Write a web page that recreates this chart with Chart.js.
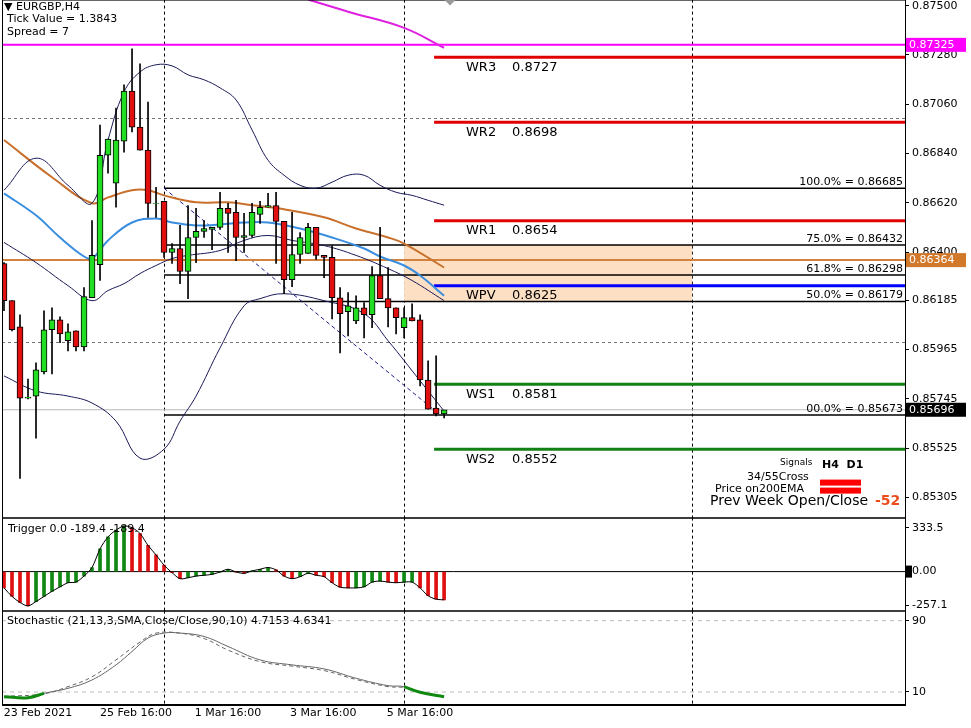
<!DOCTYPE html>
<html>
<head>
<meta charset="utf-8">
<script src="https://cdn.jsdelivr.net/npm/chart.js@4"></script>
<style>
  body { margin: 0; background: #fff; width: 971px; height: 728px; overflow: hidden; position: relative; font-family: "DejaVu Sans", sans-serif; }
  canvas { position: absolute; left: 0; }
</style>
</head>
<body>
<canvas id="main" width="971" height="538" style="top:-10px"></canvas>
<canvas id="trig" width="971" height="113" style="top:508px"></canvas>
<canvas id="stoch" width="971" height="127" style="top:601px"></canvas>
<script>
// EURGBP H4 candles, index 0 = first visible bar
const opens  = [.86349,.86183,.86066,.85748,.85757,.85865,.86053,.86098,.86004,.86048,.85977,.86196,.86344,.86832,.86707,.86895,.87119,.86958,.86855,.86617,.86626,.86398,.86416,.86313,.86465,.86492,.86501,.86510,.86595,.86577,.86465,.86474,.86568,.86600,.86608,.86537,.86277,.86389,.86394,.86510,.86385,.86376,.86196,.86134,.86093,.86151,.86120,.86295,.86192,.86151,.86062,.86107,.86098,.85829,.85704,.85677];
const highs  = [.86353,.86183,.86120,.85833,.85905,.86138,.86151,.86111,.86080,.86048,.86241,.86541,.86967,.86904,.87043,.87146,.87307,.87240,.87070,.86689,.86626,.86438,.86519,.86608,.86595,.86541,.86510,.86667,.86617,.86631,.86573,.86617,.86626,.86662,.86667,.86537,.86577,.86487,.86528,.86510,.86385,.86429,.86241,.86219,.86205,.86174,.86335,.86510,.86331,.86151,.86151,.86169,.86120,.85914,.85937,.85690];
const lows   = [.86138,.86048,.85390,.85744,.85569,.85856,.85856,.85995,.85959,.85959,.85959,.86196,.86273,.86752,.86600,.86846,.86936,.86855,.86555,.86555,.86376,.86349,.86259,.86192,.86353,.86465,.86411,.86501,.86398,.86362,.86398,.86465,.86528,.86600,.86349,.86214,.86246,.86349,.86394,.86367,.86286,.86102,.85950,.86026,.86080,.86017,.86062,.86192,.86066,.86035,.86017,.86093,.85802,.85699,.85668,.85659];
const closes = [.86183,.86053,.85748,.85753,.85874,.86053,.86098,.86035,.86044,.85977,.86201,.86385,.86832,.86904,.86900,.87119,.86958,.86855,.86617,.86619,.86398,.86416,.86313,.86465,.86492,.86505,.86510,.86595,.86573,.86465,.86474,.86577,.86600,.86608,.86537,.86277,.86389,.86465,.86510,.86385,.86376,.86196,.86125,.86160,.86151,.86120,.86295,.86192,.86151,.86107,.86107,.86093,.85829,.85699,.85677,.85696];

// indicators as [bar index, value]
const upperBand = [[0,.86676],[4,.86819],[8,.86698],[11,.86618],[13,.86900],[15,.87115],[17,.87204],[19,.87236],[21,.87231],[23,.87191],[25,.87169],[27,.87133],[29,.87079],[31,.86945],[33,.86810],[35,.86743],[37,.86698],[39,.86685],[41,.86712],[43,.86743],[45,.86743],[47,.86698],[49,.86667],[51,.86653],[53,.86631],[55,.86609]];
const midBand = [[0,.86443],[4,.86353],[8,.86250],[11,.86183],[13,.86228],[15,.86259],[17,.86304],[19,.86340],[21,.86371],[23,.86385],[27,.86407],[30,.86452],[33,.86474],[36,.86452],[40,.86429],[44,.86385],[48,.86326],[51,.86273],[55,.86183]];
const lowerBand = [[0,.85847],[4,.85780],[8,.85757],[11,.85726],[14,.85645],[17,.85480],[20,.85520],[22,.85645],[24,.85757],[27,.85972],[30,.86160],[32,.86192],[35,.86214],[40,.86183],[45,.86125],[48,.86004],[52,.85825],[55,.85690]];
const emaBlue = [[0,.86662],[4,.86564],[7,.86465],[10,.86380],[11,.86371],[13,.86452],[16,.86532],[19,.86550],[21,.86532],[24,.86519],[27,.86523],[30,.86532],[33,.86532],[37,.86505],[41,.86465],[45,.86416],[47,.86380],[50,.86340],[52,.86295],[55,.86205]];
const emaOrange = [[0,.86900],[6,.86734],[11,.86618],[13,.86644],[16,.86676],[18,.86676],[20,.86653],[24,.86622],[28,.86622],[31,.86609],[35,.86591],[40,.86555],[44,.86505],[48,.86465],[50,.86438],[55,.86331]];
const ema200 = [[38,.87527],[43,.87473],[50,.87401],[55,.87312]];

const levelNames  = ["WR3", "WR2", "WR1", "WPV", "WS1", "WS2"];
const levelValues = [0.8727, 0.8698, 0.8654, 0.8625, 0.8581, 0.8552];
const fibNames  = ["100.0%", "75.0%", "61.8%", "50.0%", "00.0%"];
const fibValues = [0.86685, 0.86432, 0.86298, 0.86179, 0.85673];
const magentaLevel = 0.87325;
const orangeLevel = 0.86364;
const lastPrice = 0.85696;

const priceTicks = [0.87500, 0.87280, 0.87060, 0.86840, 0.86620, 0.86400, 0.86185, 0.85965, 0.85745, 0.85525, 0.85305];

const trigger = [-124,-189,-235,-261,-228,-189,-150,-116,-85,-80,-34,31,173,264,316,347,334,290,199,127,49,-8,-54,-47,-34,-28,-21,-3,18,-3,-13,5,18,31,13,-34,-54,-39,-13,-28,-39,-85,-119,-124,-124,-116,-80,-72,-80,-85,-80,-80,-124,-184,-210,-215];
const stochMain = [[0,4.7],[3,3.6],[5,8.5],[8,14.1],[11,23.5],[14,40.4],[16,55.4],[18,70.5],[20,76.1],[22,76.1],[25,72.3],[28,61],[32,46],[36,40.4],[40,35.9],[44,25.4],[48,17.1],[50,16],[52,9.7],[55,4.7]];
const stochSignal = [[0,5],[5,8],[8,16],[11,27],[14,46],[17,66],[19,76],[22,76],[25,70],[28,57],[32,44],[36,39],[40,34],[44,24],[48,16],[50,15],[52,10],[55,5]];
const stochLow = [[0,4.7],[3,3.6],[5,8.5],[20,null],[50,16],[52,9.7],[55,4.7]];

const timeTicks = [4.25, 16.5, 28, 39.9, 52];
const timeLabels = ["23 Feb 2021", "25 Feb 16:00", "1 Mar 16:00", "3 Mar 16:00", "5 Mar 16:00"];
const gridIdx = [20, 50, 86];

const XMIN = -0.25, XMAX = 112.6;
const FONT = "DejaVu Sans";
const pts = arr => arr.map(p => ({ x: p[0], y: p[1] }));
const seg = (x0, x1, v) => [{ x: x0, y: v }, { x: x1, y: v }];
const LAYOUT = { autoPadding: false, padding: { left: 2, top: 0, bottom: 0, right: 0 } };

function xScale(display) {
  return { type: "linear", min: XMIN, max: XMAX, offset: false, display: display, grid: { display: false } };
}
function yScale(min, max, ticks, fmt) {
  return {
    position: "right", min: min, max: max,
    afterFit: s => { s.width = 66; },
    afterBuildTicks: s => { s.ticks = ticks.map(v => ({ value: v })); },
    ticks: { color: "#000", font: { family: FONT, size: 11 }, padding: 3, callback: fmt },
    grid: { drawOnChartArea: false, color: "#000", tickLength: 4 },
    border: { color: "#000" }
  };
}
function lineDs(data, color, width, extra) {
  return Object.assign({ type: "line", data: data, borderColor: color, borderWidth: width, pointRadius: 0, tension: 0.4, fill: false, order: 3 }, extra || {});
}

const vGrid = {
  id: "vgrid",
  beforeDatasetsDraw(chart) {
    const { ctx, chartArea: a, scales: { x } } = chart;
    ctx.save();
    ctx.strokeStyle = "#000"; ctx.lineWidth = 1; ctx.setLineDash([3, 3]);
    gridIdx.forEach(i => {
      const px = Math.round(x.getPixelForValue(i)) + 0.5;
      ctx.beginPath(); ctx.moveTo(px, a.top); ctx.lineTo(px, a.bottom); ctx.stroke();
    });
    ctx.restore();
  },
  afterDraw(chart) {
    const { ctx, chartArea: a } = chart;
    ctx.save(); ctx.strokeStyle = "#000"; ctx.lineWidth = 1;
    ctx.strokeRect(a.left + 0.5, a.top + 0.5, a.right - a.left, a.bottom - a.top - 1);
    ctx.restore();
  }
};

const mainOverlay = {
  id: "mainOverlay",
  beforeDatasetsDraw(chart) {
    const { ctx, chartArea: a, scales: { x, y } } = chart;
    ctx.save();
    // retracement zone
    const bx0 = x.getPixelForValue(50), bx1 = x.getPixelForValue(86);
    const by0 = y.getPixelForValue(fibValues[1]), by1 = y.getPixelForValue(fibValues[3]);
    ctx.fillStyle = "#fde0c4";
    ctx.fillRect(bx0, by0, bx1 - bx0, by1 - by0);
    // horizontal dashed grid
    ctx.strokeStyle = "#777"; ctx.setLineDash([3, 3]);
    [0.87, 0.86].forEach(v => {
      const py = Math.round(y.getPixelForValue(v)) + 0.5;
      ctx.beginPath(); ctx.moveTo(a.left, py); ctx.lineTo(a.right, py); ctx.stroke();
    });
    ctx.restore();
  },
  afterDraw(chart) {
    const { ctx, chartArea: a, scales: { x, y } } = chart;
    ctx.save();
    ctx.textBaseline = "middle";
    ctx.fillStyle = "#000";
    ctx.font = "13px " + FONT;
    levelNames.forEach((n, i) => {
      const py = y.getPixelForValue(levelValues[i]) + 10;
      ctx.fillText(n, 466, py);
      ctx.fillText(levelValues[i].toFixed(4), 512, py);
    });
    ctx.font = "11px " + FONT;
    ctx.textAlign = "right";
    fibNames.forEach((n, i) => {
      ctx.fillText(n + " = " + fibValues[i].toFixed(5), a.right - 2, y.getPixelForValue(fibValues[i]) - 6);
    });
    ctx.textAlign = "left";
    // price boxes on the axis
    [[magentaLevel, "#ff00ff"], [orangeLevel, "#d2782a"], [lastPrice, "#000"]].forEach(([v, c]) => {
      const py = y.getPixelForValue(v);
      ctx.fillStyle = c; ctx.fillRect(a.right + 1, py - 7, 60, 14);
      ctx.fillStyle = "#fff"; ctx.fillText(v.toFixed(5), a.right + 4, py);
    });
    ctx.translate(0, a.top);
    // header texts
    ctx.fillStyle = "#000";
    ctx.font = "11px " + FONT;
    ctx.fillText("\u25BC EURGBP,H4", 4, 8);
    ctx.fillText("Tick Value = 1.3843", 7, 20);
    ctx.fillText("Spread = 7", 7, 33);
    // signals panel
    ctx.font = "9px " + FONT; ctx.fillText("Signals", 780, 463);
    ctx.font = "bold 11px " + FONT; ctx.fillText("H4  D1", 822, 466);
    ctx.font = "11px " + FONT;
    ctx.fillText("34/55Cross", 747, 478);
    ctx.fillText("Price on200EMA", 715, 490);
    ctx.font = "14px " + FONT; ctx.fillText("Prev Week Open/Close", 710, 502);
    ctx.font = "bold 14px " + FONT; ctx.fillStyle = "#ec4c1c"; ctx.fillText("-52", 875, 502);
    ctx.fillStyle = "#f00";
    ctx.fillRect(820, 480, 41, 6);
    ctx.fillRect(820, 488, 41, 6);
    // chart object marker
    ctx.fillStyle = "#999";
    ctx.beginPath(); ctx.moveTo(444, 0); ctx.lineTo(450, 6); ctx.lineTo(456, 0); ctx.fill();
    ctx.restore();
  }
};

const idx = opens.map((_, i) => i);
const bodyColors = idx.map(i => closes[i] >= opens[i] ? "#22dd22" : "#e01010");

const mainDatasets = [
  { type: "bar", data: idx.map(i => ({ x: i, y: [lows[i], highs[i]] })), backgroundColor: "#000", barThickness: 1, grouped: false, order: 2 },
  { type: "bar", data: idx.map(i => ({ x: i, y: [opens[i], closes[i]] })), backgroundColor: bodyColors, borderColor: "#000", borderWidth: 1, borderSkipped: false, barThickness: 6, grouped: false, order: 1 },
  lineDs(pts(upperBand), "#1a1a5a", 1),
  lineDs(pts(midBand), "#1a1a5a", 1),
  lineDs(pts(lowerBand), "#1a1a5a", 1),
  lineDs(pts(emaBlue), "#3a8ee0", 2),
  lineDs(pts(emaOrange), "#c8702c", 2),
  lineDs(pts(ema200), "#e020e0", 2),
  lineDs(seg(XMIN, XMAX, magentaLevel), "#ff00ff", 2, { tension: 0 }),
  lineDs(seg(XMIN, XMAX, orangeLevel), "#d2823c", 2, { tension: 0 }),
  lineDs(seg(XMIN, XMAX, lastPrice), "#b8b8b8", 1, { tension: 0, order: 5 }),
  lineDs([{ x: 20, y: fibValues[0] }, { x: 54.5, y: fibValues[4] }], "#1a1a8a", 1, { tension: 0, borderDash: [4, 3] })
];
fibValues.forEach(v => mainDatasets.push(lineDs(seg(20, XMAX, v), "#000", 1.5, { tension: 0, order: 4 })));
levelValues.forEach((v, i) => {
  const c = i < 3 ? "#e00000" : i === 3 ? "#0000ff" : "#128012";
  mainDatasets.push(lineDs(seg(53.75, XMAX, v), c, 3, { tension: 0, order: 4 }));
});

new Chart(document.getElementById("main"), {
  data: { datasets: mainDatasets },
  options: {
    responsive: false, animation: false, devicePixelRatio: 1,
    layout: LAYOUT,
    plugins: { legend: { display: false }, tooltip: { enabled: false } },
    scales: { x: xScale(false), y: yScale(0.85211, 0.87527, priceTicks, v => v.toFixed(5)) }
  },
  plugins: [vGrid, mainOverlay]
});

const trigColors = trigger.map((v, i) => (i === 0 || v < trigger[i - 1]) ? "#e01010" : "#118811");
new Chart(document.getElementById("trig"), {
  data: { datasets: [
    { type: "bar", data: trigger.map((v, i) => ({ x: i, y: v })), backgroundColor: trigColors, barThickness: 3, grouped: false, order: 2 },
    lineDs(trigger.map((v, i) => ({ x: i, y: v })), "#000", 1, { order: 1, tension: 0.3 }),
    lineDs(seg(XMIN, XMAX, 0), "#000", 1, { tension: 0, order: 3 })
  ] },
  options: {
    responsive: false, animation: false, devicePixelRatio: 1,
    layout: LAYOUT,
    plugins: { legend: { display: false }, tooltip: { enabled: false } },
    scales: { x: xScale(false), y: yScale(-303, 411, [333.5, 0, -257.1], v => v === 0 ? "0.00" : String(v)) }
  },
  plugins: [vGrid, { id: "tl", afterDraw(c) {
    const ctx = c.ctx; ctx.save();
    ctx.font = "11px " + FONT; ctx.fillStyle = "#000"; ctx.textBaseline = "middle";
    ctx.fillText("Trigger 0.0 -189.4 -189.4", 8, c.chartArea.top + 12);
    ctx.fillRect(c.chartArea.right + 1, c.scales.y.getPixelForValue(0) - 6, 6, 12);
    ctx.restore();
  } }]
});

new Chart(document.getElementById("stoch"), {
  data: { datasets: [
    lineDs(pts(stochMain), "#666", 1),
    lineDs(pts(stochSignal), "#666", 1, { borderDash: [4, 3] }),
    lineDs(pts(stochLow), "#118811", 3, { spanGaps: false, order: 1 }),
    lineDs(seg(XMIN, XMAX, 90), "#bbb", 1, { tension: 0, borderDash: [4, 4], order: 5 }),
    lineDs(seg(XMIN, XMAX, 10), "#bbb", 1, { tension: 0, borderDash: [4, 4], order: 5 })
  ] },
  options: {
    responsive: false, animation: false, devicePixelRatio: 1,
    layout: LAYOUT,
    plugins: { legend: { display: false }, tooltip: { enabled: false } },
    scales: {
      x: {
        type: "linear", min: XMIN, max: XMAX, offset: false,
        afterFit: s => { s.height = 23; },
        afterBuildTicks: s => { s.ticks = timeTicks.map(v => ({ value: v })); },
        ticks: { color: "#000", font: { family: FONT, size: 11 }, maxRotation: 0, autoSkip: false, padding: 2,
          callback: v => timeLabels[timeTicks.indexOf(v)] },
        grid: { drawOnChartArea: false, tickLength: 0 },
        border: { color: "#000" }
      },
      y: yScale(-4.6, 101.3, [90, 10], v => String(v))
    }
  },
  plugins: [vGrid, { id: "sl", afterDraw(c) {
    const ctx = c.ctx; ctx.save();
    ctx.font = "11px " + FONT; ctx.fillStyle = "#000"; ctx.textBaseline = "middle";
    ctx.fillText("Stochastic (21,13,3,SMA,Close/Close,90,10) 4.7153 4.6341", 7, c.chartArea.top + 11);
    ctx.restore();
  } }]
});
</script>
</body>
</html>
